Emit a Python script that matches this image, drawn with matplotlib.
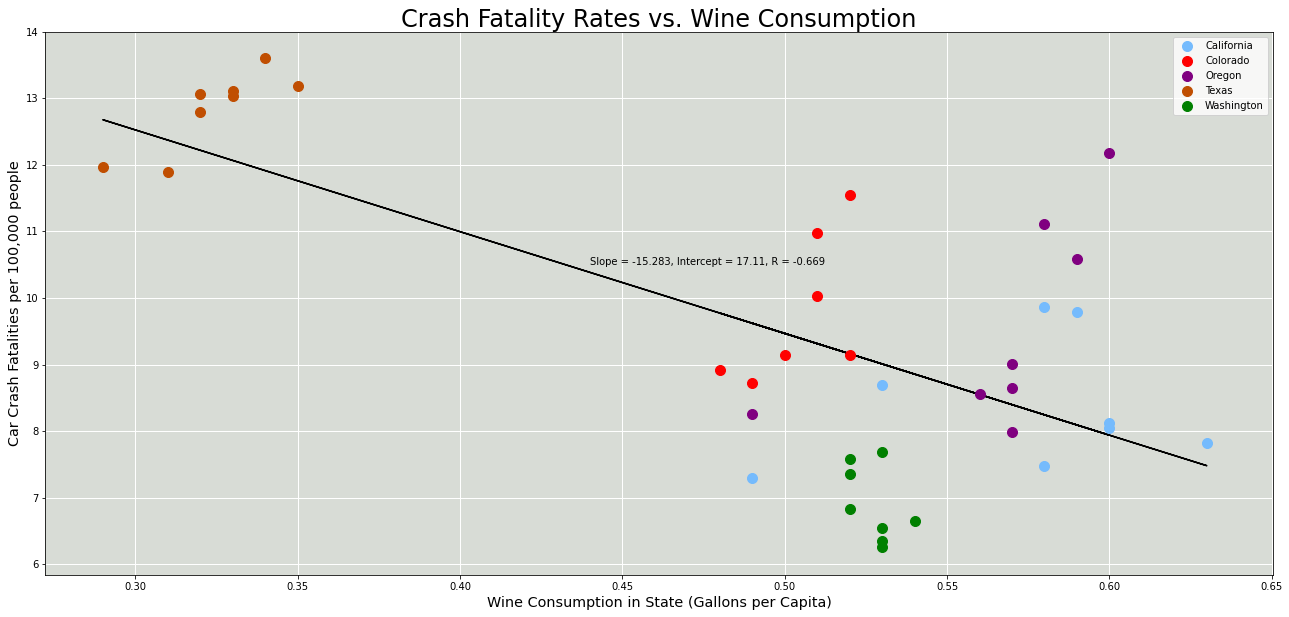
import numpy as np
import matplotlib.pyplot as plt

#Values
ca_wine = [0.49, 0.53, 0.58, 0.58, 0.59, 0.60, 0.60, 0.63]
ca_rate = [7.29, 8.69, 7.48, 9.86, 9.79, 8.12, 8.05, 7.82]

co_wine = [0.48, 0.49, 0.50, 0.51, 0.51, 0.52, 0.52]
co_rate = [8.92, 8.72, 9.15, 10.03, 10.97, 9.14, 11.54]

or_wine = [0.49, 0.56, 0.57, 0.57, 0.57, 0.58, 0.59, 0.60]
or_rate = [8.26, 8.56, 7.99, 8.65, 9.01, 11.11, 10.58, 12.18]

tx_wine = [0.29, 0.31, 0.32, 0.32, 0.33, 0.33, 0.34, 0.35]
tx_rate = [11.97, 11.90, 12.79, 13.06, 13.04, 13.11, 13.60, 13.18]

wa_wine = [0.52, 0.52, 0.52, 0.53, 0.53, 0.53, 0.53, 0.54]
wa_rate = [7.58, 7.36, 6.83, 7.69, 6.55, 6.35, 6.26, 6.65]

slope = -15.283
intercept = 17.11

states = ["California", "Colorado", "Oregon", "Texas", "Washington"]
colors = ["#75bbfd", "red", "purple", "#c04e01", "green"]
wine_all = [ca_wine, co_wine, or_wine, tx_wine, wa_wine]
rate_all = [ca_rate, co_rate, or_rate, tx_rate, wa_rate]

#The picture was made at 72 dpi, so the font sizes are the plain defaults
fig = plt.figure(figsize=(1289 / 72, 617 / 72), dpi=72)
ax = fig.add_axes([45.3 / 1289, 1 - 575 / 617, (1273 - 45.3) / 1289, (575 - 31.7) / 617])
ax.set_facecolor("#d8dcd6")

for name, col, w, r in zip(states, colors, wine_all, rate_all):
    ax.scatter(w, r, s=100, color=col, label=name, zorder=3)

#Trend line through every x value, in data order
x_line = np.array(ca_wine + co_wine + or_wine + tx_wine + wa_wine)
ax.plot(x_line, slope * x_line + intercept, color="black", linewidth=1.5, zorder=2)

ax.text(0.44, 10.5, "Slope = -15.283, Intercept = 17.11, R = -0.669", fontsize=10)

ax.set_xlim(0.27228, 0.65038)
ax.set_ylim(5.84, 14)
ax.set_xticks([0.30, 0.35, 0.40, 0.45, 0.50, 0.55, 0.60, 0.65])
ax.set_xticklabels(["0.30", "0.35", "0.40", "0.45", "0.50", "0.55", "0.60", "0.65"])
ax.tick_params(labelsize=10)
ax.grid(color="white", linewidth=1)
ax.set_axisbelow(True)

ax.set_title("Crash Fatality Rates vs. Wine Consumption", fontsize=24, pad=4)
ax.set_xlabel("Wine Consumption in State (Gallons per Capita)", fontsize=14.4)
ax.set_ylabel("Car Crash Fatalities per 100,000 people", fontsize=14.4)
ax.legend(loc="upper right", fontsize=10)

plt.savefig("out.png", dpi=72)
